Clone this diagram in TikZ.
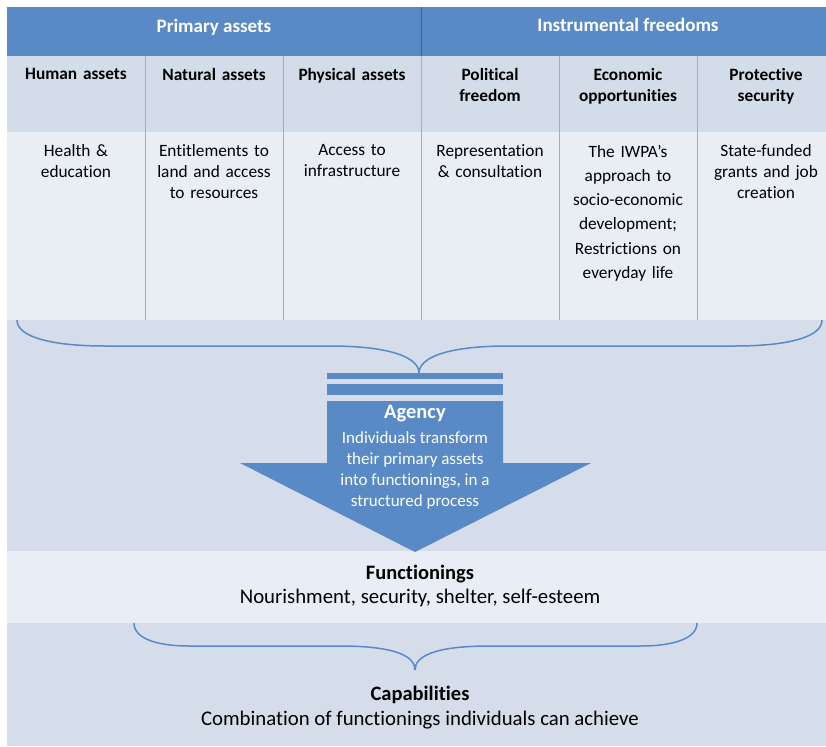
\documentclass[tikz,border=0pt]{standalone}
\usepackage{fontspec}
\setmainfont{Carlito}[RawFeature=-liga]
\definecolor{hdrblue}{HTML}{5A8AC6}
\definecolor{subrow}{HTML}{D3DCE9}
\definecolor{cellrow}{HTML}{E9EDF4}
\definecolor{panel}{HTML}{D5DDEA}
\definecolor{lightband}{HTML}{E9EDF5}
\definecolor{gridgray}{HTML}{A9ADB3}
\begin{document}
\begin{tikzpicture}[x=1pt,y=-1pt,
  hdr/.style={font=\fontsize{19}{23}\selectfont\bfseries, text=white, inner sep=0pt, anchor=center},
  subhdr/.style={font=\fontsize{17.3}{21.4}\selectfont\bfseries, text=black, inner sep=0pt, anchor=north, align=center, text width=130pt},
  cell/.style={font=\fontsize{17.3}{21.2}\selectfont, text=black, inner sep=0pt, anchor=north, align=center, text width=130pt},
  bigtitle/.style={font=\fontsize{20.5}{24}\selectfont\bfseries, inner sep=0pt, anchor=center},
  bigtext/.style={font=\fontsize{20.8}{24}\selectfont, inner sep=0pt, anchor=center},
  brace/.style={draw=hdrblue, line width=1.5pt},
  grid/.style={draw=gridgray, line width=0.6pt}
]
\useasboundingbox (0,0) rectangle (826,746);
\fill[white] (0,0) rectangle (826,746);
% backgrounds
\fill[hdrblue] (7,7) rectangle (826,56);
\fill[subrow] (7,56) rectangle (826,132);
\fill[cellrow] (7,132) rectangle (826,320);
\fill[panel] (7,320) rectangle (826,551);
\fill[lightband] (7,551) rectangle (826,623);
\fill[panel] (7,623) rectangle (826,746);
% grid lines
\draw[draw=hdrblue!70!black, line width=0.6pt] (421,7) -- (421,56);
\foreach \gx in {145,283,421,559,697} \draw[grid] (\gx,56) -- (\gx,320);
% headers
\node[hdr] (pa) at (214,27) {Primary assets};
\node[hdr] (if) at (628,25) {Instrumental freedoms};
% sub headers
\node[subhdr] (h1) at (76,68) {Human assets};
\node[subhdr] (h2) at (214,68) {Natural assets};
\node[subhdr] (h3) at (352,68) {Physical assets};
\node[subhdr] (h4) at (490,68) {Political\\freedom};
\node[subhdr] (h5) at (628,68) {Economic\\opportunities};
\node[subhdr] (h6) at (766,68) {Protective\\security};
% content
\node[cell] (c1) at (76,144) {Health \&\\education};
\node[cell] (c2) at (214,144) {Entitlements to\\land and access\\to resources};
\node[cell] (c3) at (352,144) {Access to\\infrastructure};
\node[cell] (c4) at (490,144) {Representation\\\& consultation};
\node[cell, font=\fontsize{17.3}{24.2}\selectfont] (c5) at (628,145) {The IWPA’s\\approach to\\socio-economic\\development;\\Restrictions on\\everyday life};
\node[cell] (c6) at (766,144) {State-funded\\grants and job\\creation};
% brace 1
\draw[brace] (17,320) .. controls (17,338) and (55,346) .. (105,346) -- (330,346) .. controls (392,346) and (419,358) .. (419,373);
\draw[brace] (419,373) .. controls (419,358) and (446,346) .. (508,346) -- (735,346) .. controls (785,346) and (822,338) .. (822,320);
% agency arrow
\fill[hdrblue] (327,373.3) rectangle (503,378.7);
\fill[hdrblue] (327,384.3) rectangle (503,395.3);
\fill[hdrblue] (327,401) -- (503,401) -- (503,463) -- (591,463) -- (415,552) -- (240,463) -- (327,463) -- cycle;
\node[bigtitle, text=white, font=\fontsize{20.5}{24}\selectfont\bfseries] (ag) at (415,414) {Agency};
\node[inner sep=0pt, anchor=north, align=center, text=white, font=\fontsize{17}{21}\selectfont] (agt) at (415,431) {Individuals transform\\their primary assets\\into functionings, in a\\structured process};
% functionings
\node[bigtitle] (fn) at (420,574) {Functionings};
\node[bigtext] (fnt) at (420,598) {Nourishment, security, shelter, self-esteem};
% brace 2
\draw[brace] (134,623) .. controls (134,638) and (155,646) .. (190,646) -- (340,646) .. controls (395,646) and (415,656) .. (415,670);
\draw[brace] (415,670) .. controls (415,656) and (435,646) .. (490,646) -- (640,646) .. controls (675,646) and (697,638) .. (697,623);
% capabilities
\node[bigtitle] (cp) at (420,695) {Capabilities};
\node[bigtext] (cpt) at (420,720) {Combination of functionings individuals can achieve};
\end{tikzpicture}
\end{document}
